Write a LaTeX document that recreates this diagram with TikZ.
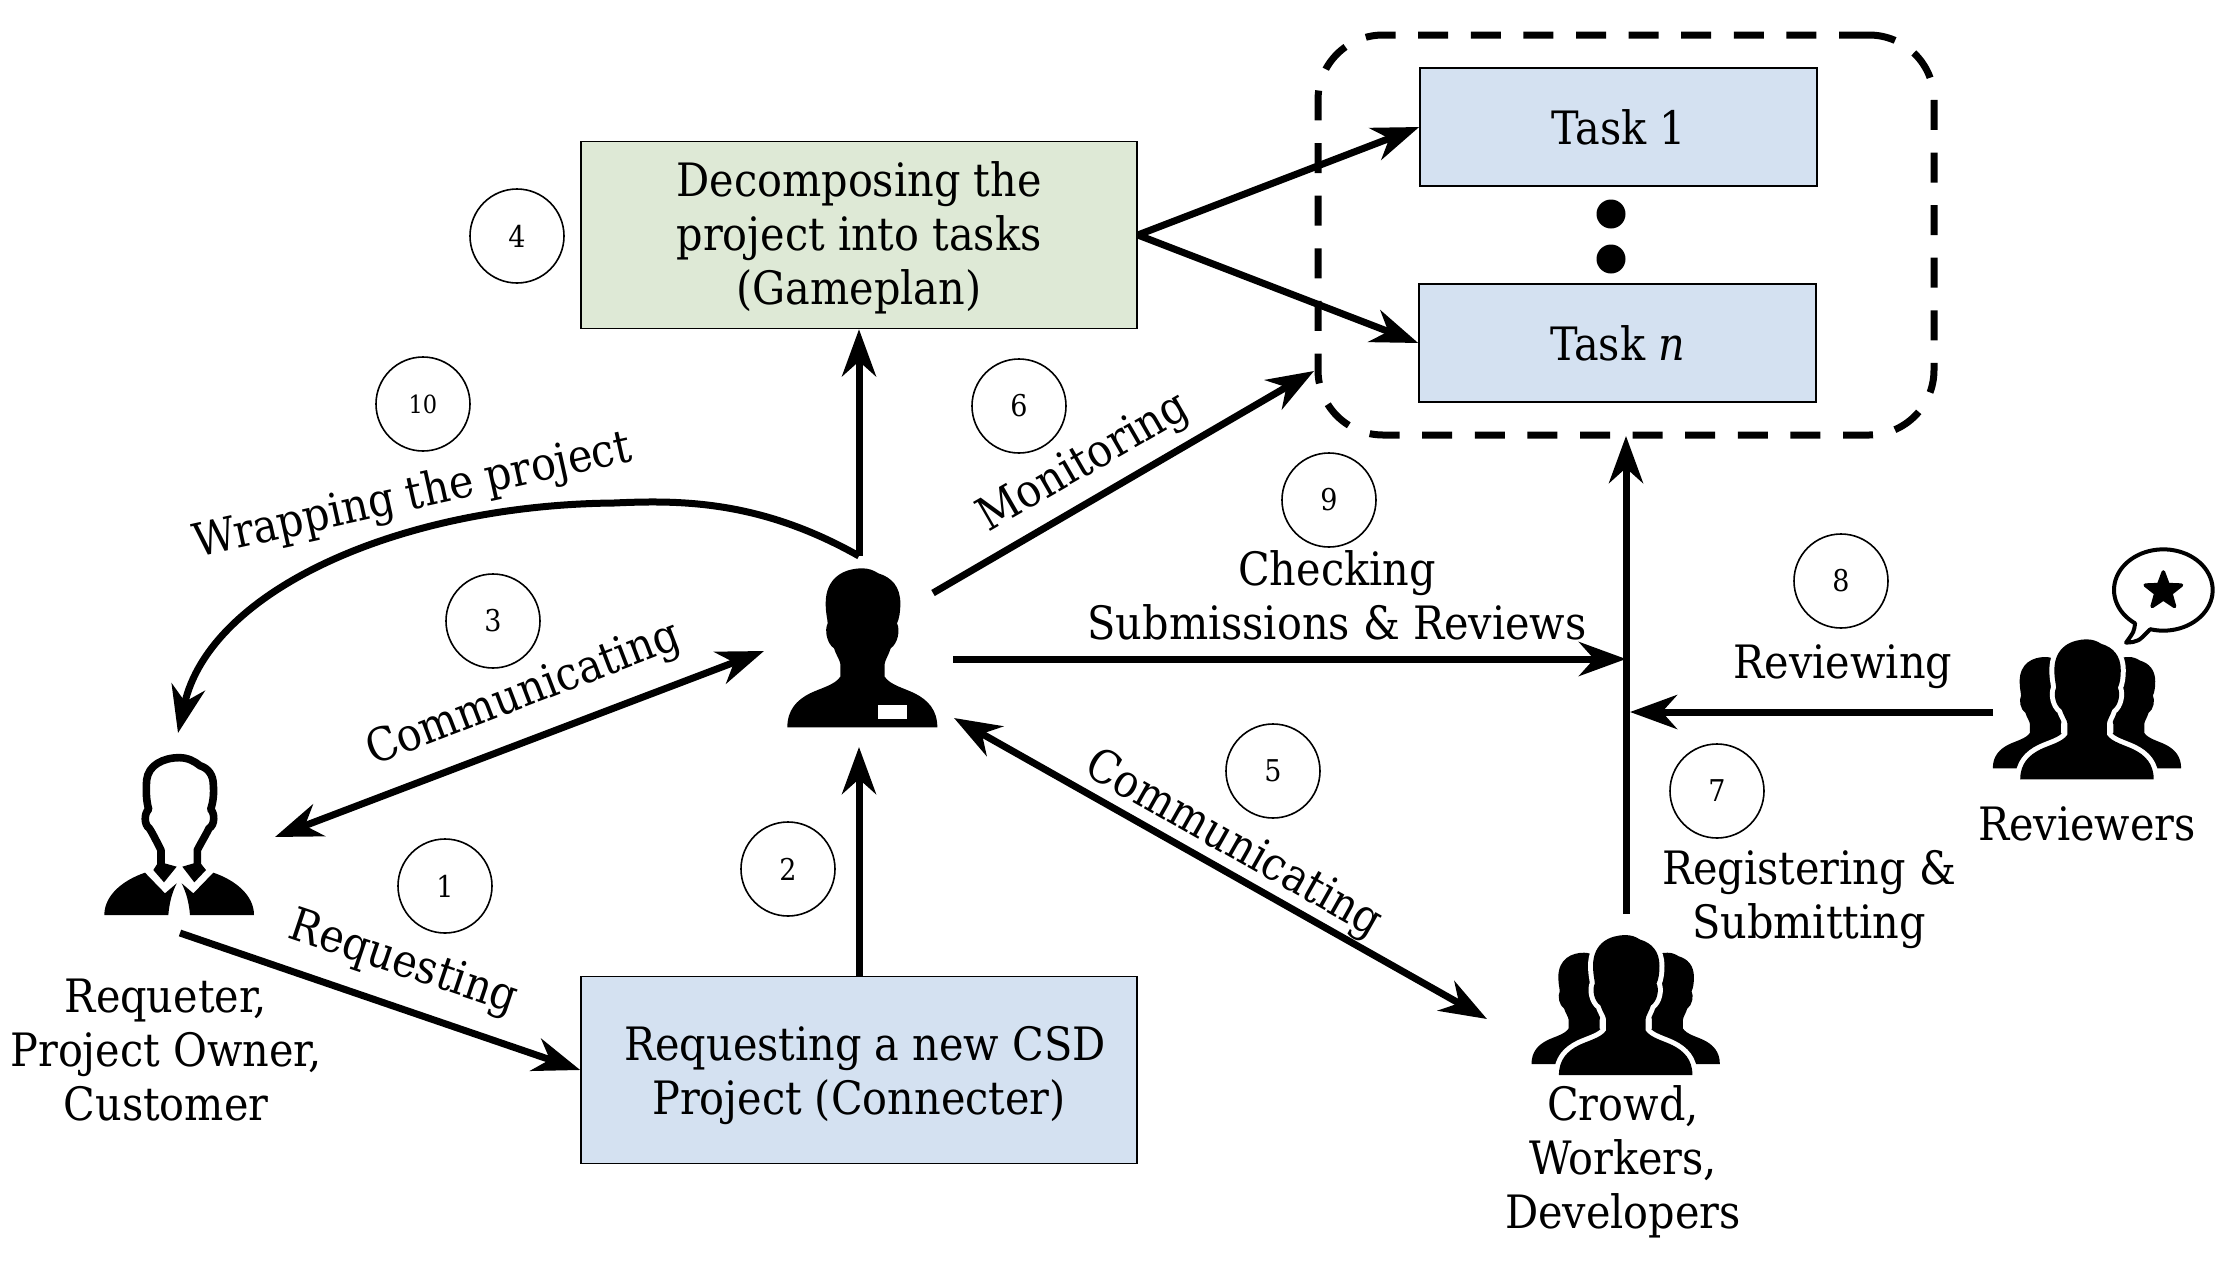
\documentclass[tikz,border=0pt]{standalone}
\usepackage{fontspec}
\setmainfont{DejaVu Serif Condensed}
\usetikzlibrary{arrows.meta,shapes.geometric}
\definecolor{bluebox}{HTML}{D4E1F1}
\definecolor{greenbox}{HTML}{DEE9D6}
\tikzset{
  box/.style={draw=black,line width=0.8pt,inner sep=0pt,align=center,font=\fontsize{23}{27}\selectfont},
  taskbox/.style={box,fill=bluebox,minimum width=198.5pt,minimum height=59pt},
  stagebox/.style={box,minimum width=278pt,minimum height=93.5pt},
  caption/.style={align=center,inner sep=0pt,font=\fontsize{23}{27}\selectfont},
  badge/.style={circle,draw=black,line width=0.8pt,minimum size=47pt,inner sep=0pt,font=\fontsize{15}{16}\selectfont},
  flow/.style={line width=3.5pt,-{Stealth[length=23.5pt,width=17pt,inset=7.5pt]}},
  twoway/.style={line width=3.5pt,{Stealth[length=23.5pt,width=17pt,inset=7.5pt]}-{Stealth[length=23.5pt,width=17pt,inset=7.5pt]}},
  iconbox/.style={inner sep=0pt,minimum width=#1,minimum height=#1},
  icon/.style={x=0.16667pt,y=-0.16667pt},
}
% Bust silhouette, outlined in zoomed-up units around a centre line at x=307
\newcommand{\bustpath}{
  (307,85) .. controls (255,85) and (197,110) .. (197,190)
  .. controls (197,220) and (203,240) .. (203,250)
  .. controls (193,270) and (200,310) .. (222,325)
  .. controls (228,345) and (240,360) .. (241,372)
  -- (241,410)
  .. controls (225,435) and (180,445) .. (150,460)
  .. controls (110,480) and (82,510) .. (82,562)
  -- (532,562)
  .. controls (532,510) and (504,480) .. (464,460)
  .. controls (434,445) and (390,435) .. (374,410)
  -- (374,372)
  .. controls (375,360) and (386,345) .. (392,325)
  .. controls (414,310) and (421,270) .. (411,250)
  .. controls (418,235) and (421,215) .. (421,190)
  .. controls (421,140) and (395,112) .. (355,100)
  .. controls (340,90) and (325,85) .. (307,85) -- cycle
}
% Group of three busts, the front one set off by a white halo
\newcommand{\crowdicon}{
  \begin{scope}[shift={(252,432)},xscale=0.7,yscale=0.7,shift={(-307,-562)}]
    \fill[black] \bustpath;
  \end{scope}
  \begin{scope}[shift={(502,432)},xscale=0.7,yscale=0.7,shift={(-307,-562)}]
    \fill[black] \bustpath;
  \end{scope}
  \begin{scope}[shift={(377,465)},xscale=0.89,yscale=0.88,shift={(-307,-562)}]
    \draw[white,line width=5pt,line join=round] \bustpath;
    \fill[black] \bustpath;
  \end{scope}
}
\begin{document}
\begin{tikzpicture}[x=0.5pt,y=-0.5pt]
\useasboundingbox (0,0) rectangle (2240,1270);

% Process boxes
\node[stagebox,fill=greenbox] (decomp) at (859,235) {\raisebox{-1.5pt}[\height][\depth]{\parbox{270pt}{\centering Decomposing the\\project into tasks\\(Gameplan)}}};
\node[stagebox,fill=bluebox] (connecter) at (859,1070) {\raisebox{-3pt}[\height][\depth]{\parbox{270pt}{\centering\hspace*{6pt}Requesting a new CSD\\Project (Connecter)}}};
\node[taskbox] (task1) at (1618.5,127) {Task 1};
\node[taskbox] (taskn) at (1617.5,343) {Task {\itshape n}};

% Group frame around the tasks and the ellipsis between them
\node[draw=black,line width=3.5pt,rounded corners=32.5pt,dash pattern=on 15pt off 11.3pt,
      minimum width=308pt,minimum height=200pt,inner sep=0pt] (taskgroup) at (1626,235) {};
\node[circle,fill=black,minimum size=14.5pt,inner sep=0pt] (dotA) at (1611,214) {};
\node[circle,fill=black,minimum size=14.5pt,inner sep=0pt] (dotB) at (1611,259) {};

% Person icon holders
\node[iconbox=110pt] (requester) at (178,835) {};
\node[iconbox=110pt] (manager) at (862,650) {};
\node[iconbox=100pt] (crowd) at (1625,1000) {};
\node[iconbox=100pt] (reviewers) at (2087,704) {};

% Requester: outlined head with collar and shoulders
\begin{scope}[shift={(60,720)},icon]
  \draw[black,line width=3.8pt,line join=round]
    (303,445) -- (303,390) .. controls (290,365) and (278,340) .. (268,325)
    .. controls (252,315) and (252,280) .. (266,268)
    .. controls (258,240) and (258,210) .. (260,180)
    .. controls (265,135) and (310,113) .. (358,113)
    .. controls (385,113) and (405,125) .. (420,137)
    .. controls (445,145) and (460,165) .. (460,195)
    .. controls (462,220) and (460,245) .. (452,268)
    .. controls (465,280) and (465,315) .. (447,325)
    .. controls (440,340) and (425,365) .. (412,390) -- (412,445);
  \fill[black] (296,425) -- (350,440) -- (312,487) -- (280,450) -- cycle;
  \fill[black] (418,425) -- (367,440) -- (403,487) -- (438,450) -- cycle;
  \fill[black] (133,585) .. controls (133,525) and (190,480) .. (255,458)
    -- (315,520) -- (350,490) .. controls (335,520) and (328,550) .. (325,585) -- cycle;
  \fill[black] (582,585) .. controls (582,525) and (525,480) .. (460,458)
    -- (400,520) -- (365,490) .. controls (380,520) and (387,550) .. (390,585) -- cycle;
\end{scope}

% Project manager: solid bust with a name badge
\begin{scope}[shift={(760,540)},icon]
  \fill[black] \bustpath;
  \fill[white] (354,496) rectangle (441,538);
\end{scope}

% Crowd
\begin{scope}[shift={(1500,920)},icon]
  \crowdicon
\end{scope}

% Reviewers with a star in a speech bubble
\begin{scope}[shift={(1961.3,624.3)},icon]
  \crowdicon
\end{scope}
\begin{scope}[shift={(1970,530)},icon]
  \draw[black,line width=2pt,line join=round,fill=white]
    plot[domain=-105.6:235,samples=70] ({580+148*cos(\x)},{180-122*sin(\x)})
    .. controls (492,305) .. (468,338) .. controls (505,335) .. (540,298) -- cycle;
  \node[star,star points=5,star point ratio=2.4,fill=black,draw=black,line width=1.8pt,
        line join=round,inner sep=0pt,minimum size=19pt] (reviewstar) at (580,183) {};
\end{scope}

% Free ends next to the icons
\coordinate (mgrN) at (859,556);
\coordinate (mgrS) at (859,747);
\coordinate (mgrW) at (764,651);
\coordinate (mgrNE) at (933,593);
\coordinate (mgrE) at (953,659);
\coordinate (mgrSE) at (954,718);
\coordinate (reqNE) at (275,837);
\coordinate (reqN) at (178,733);
\coordinate (reqS) at (180,933);
\coordinate (crowdNW) at (1487,1019);
\coordinate (crowdN) at (1626,914);
\coordinate (revW) at (1993,712);
\coordinate (groupS) at (1626,436);
\coordinate (groupW) at (1314,371);
\coordinate (joinA) at (1626,659);
\coordinate (joinB) at (1630,712);
\coordinate (bendTop) at (614,503);

% Connectors
\draw[flow] (reqS) -- (connecter.west);
\draw[flow] (connecter.north) -- (mgrS);
\draw[twoway] (reqNE) -- (mgrW);
\draw[flow] (mgrN) -- (decomp.south);
\draw[twoway] (mgrSE) -- (crowdNW);
\draw[flow] (mgrNE) -- (groupW);
\draw[flow] (mgrE) -- (joinA);
\draw[flow] (crowdN) -- (groupS);
\draw[flow] (revW) -- (joinB);
\draw[flow] (decomp.east) -- (task1.west);
\draw[flow] (decomp.east) -- (taskn.west);
\draw[flow] (mgrN) .. controls (760,500) and (680,500) .. (bendTop)
  .. controls (400,505) and (210,590) .. (reqN);

% Actor captions
\node[caption] (reqtext) at (166,1050) {Requeter,\\Project Owner,\\Customer};
\node[caption] (crowdtext) at (1623,1162) {Crowd,\\Workers,\\Developers};
\node[caption] (revtext) at (2087,824) {Reviewers};

% Connector labels
\node[caption,rotate=-18.6] (lblRequesting) at (403,964) {Requesting};
\node[caption,rotate=21] (lblCommA) at (524,695) {Communicating};
\node[caption,rotate=-29.5] (lblCommB) at (1233,845) {Communicating};
\node[caption,rotate=30] (lblMonitor) at (1084,464) {Monitoring};
\node[caption,rotate=12.5] (lblWrap) at (413,497) {Wrapping the project};
\node[caption] (lblCheck) at (1337,595.5) {Checking\\Submissions \& Reviews};
\node[caption] (lblReview) at (1843,667) {Reviewing};
\node[caption] (lblRegister) at (1809,900) {Registering \&\\Submitting};

% Step numbers
\node[badge] (n1) at (445,886) {1};
\node[badge] (n2) at (788,869) {2};
\node[badge] (n3) at (493,621) {3};
\node[badge] (n4) at (517,236) {4};
\node[badge] (n5) at (1273,771) {5};
\node[badge] (n6) at (1019,406) {6};
\node[badge] (n7) at (1717,791) {7};
\node[badge] (n8) at (1841,581) {8};
\node[badge] (n9) at (1329,500) {9};
\node[badge,font=\fontsize{12.5}{14}\selectfont] (n10) at (423,404) {10};
\end{tikzpicture}
\end{document}
